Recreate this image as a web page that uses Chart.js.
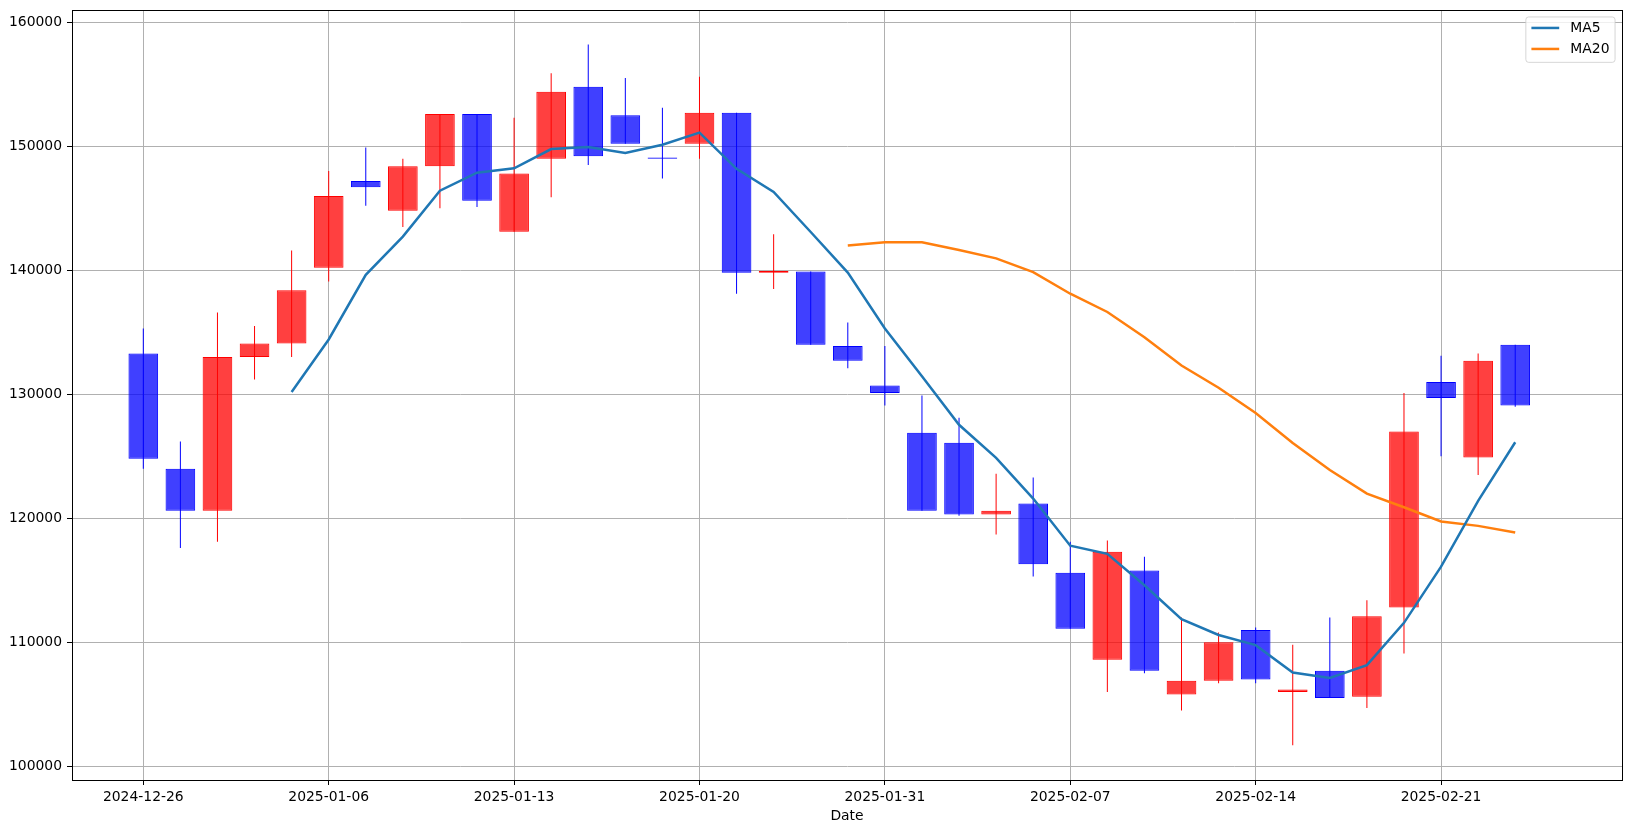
<!DOCTYPE html>
<html>
<head>
<meta charset="utf-8">
<script src="https://cdn.jsdelivr.net/npm/chart.js@4.4.1/dist/chart.umd.min.js"></script>
<style>
  html, body { margin: 0; padding: 0; background: #ffffff; }
  canvas { display: block; }
</style>
</head>
<body>
<canvas id="chart" width="1632" height="833"></canvas>
<script>
// ---- data ----
const dates = [
  "2024-12-26","2024-12-27","2024-12-30","2025-01-02","2025-01-03",
  "2025-01-06","2025-01-07","2025-01-08","2025-01-09","2025-01-10",
  "2025-01-13","2025-01-14","2025-01-15","2025-01-16","2025-01-17",
  "2025-01-20","2025-01-21","2025-01-22","2025-01-23","2025-01-24",
  "2025-01-31","2025-02-03","2025-02-04","2025-02-05","2025-02-06",
  "2025-02-07","2025-02-10","2025-02-11","2025-02-12","2025-02-13",
  "2025-02-14","2025-02-17","2025-02-18","2025-02-19","2025-02-20",
  "2025-02-21","2025-02-24","2025-02-25"
];
const opens = [
  133300,124000,120600,133000,134100,
  140200,147200,144800,148400,152600,
  143100,149000,154800,152500,149100,
  150200,152700,139800,139900,133900,
  130700,126900,126100,120300,121200,
  115600,108600,115800,105800,106900,
  111000,106000,107700,105600,112800,
  131000,124900,134000
];
const highs = [
  135300,126200,136600,135500,141600,
  148000,149900,149000,152600,152600,
  152300,155900,158200,155500,153100,
  155600,152700,142900,139900,135800,
  133900,129900,128100,123600,123300,
  118100,118200,116900,112000,110800,
  111200,109800,112000,113400,130100,
  133100,133300,134000
];
const lows = [
  124000,117600,118100,131200,133000,
  139100,145200,143500,145000,145100,
  143100,145900,148500,150200,147400,
  149000,138100,138500,134000,132100,
  129100,120600,120200,118700,115300,
  111100,106000,107500,104500,106700,
  106700,101700,105500,104700,109100,
  125000,123500,129000
];
const closes = [
  124800,120600,133000,134100,138400,
  146000,146700,148400,152600,145600,
  147800,154400,149200,150200,149000,
  152700,139800,139950,134000,132700,
  130100,120600,120300,120600,116300,
  111100,117300,107700,106900,110000,
  107000,106200,105500,112100,127000,
  129700,132700,129100
];
// moving averages (null = not drawn)
const ma5 = [
  null,null,null,null,130180,
  134420,139640,142720,146420,147870,
  148230,149780,149940,149460,150130,
  151100,148180,146320,143090,139820,
  135310,131460,127540,124870,121590,
  117790,117130,114600,111860,110590,
  109770,107560,107130,108160,111570,
  116100,121400,126130
];
const ma20 = [
  null,null,null,null,null,null,null,null,null,null,
  null,null,null,null,null,null,null,null,null,142000,
  142260,142260,141630,140960,139850,
  138110,136640,134600,132320,130530,
  128490,126080,123900,121990,120890,
  119740,119390,118850
];
const xTickIndices = [0, 5, 10, 15, 20, 25, 30, 35];
const yTicks = [100000, 110000, 120000, 130000, 140000, 150000, 160000];

// ---- styling ----
const FONT = "'DejaVu Sans', 'Liberation Sans', sans-serif";
const FS = 13.9;
const UP_FILL = 'rgba(255,0,0,0.75)', DOWN_FILL = 'rgba(0,0,255,0.75)';
const UP_LINE = '#ff0000', DOWN_LINE = '#0000ff';
const isUp = i => closes[i] >= opens[i];

Chart.defaults.font.family = FONT;
Chart.defaults.font.size = FS;
Chart.defaults.color = '#000';

const toPoints = arr => arr.map((v, i) => v === null ? null : ({ x: i, y: v })).filter(p => p !== null);

const noPad = s => { s.paddingTop = 0; s.paddingBottom = 0; s.paddingLeft = 0; s.paddingRight = 0; };

const framePlugin = {
  id: 'frame',
  afterDatasetsDraw(chart) {
    const { ctx, chartArea: a } = chart;
    ctx.save();
    ctx.strokeStyle = '#000';
    ctx.lineWidth = 1;
    ctx.strokeRect(Math.round(a.left) + 0.5, Math.round(a.top) + 0.5,
                   Math.round(a.right) - Math.round(a.left), Math.round(a.bottom) - Math.round(a.top));
    ctx.restore();
  }
};

const legendPlugin = {
  id: 'mplLegend',
  afterDraw(chart) {
    const { ctx, chartArea: a } = chart;
    const items = chart.data.datasets.filter(d => d.type === 'line');
    ctx.save();
    ctx.font = FS + 'px ' + FONT;
    const textW = Math.max(...items.map(d => ctx.measureText(d.label).width));
    const pad = 0.4 * FS, handle = 2.0 * FS, gap = 0.8 * FS;
    const w = pad + handle + gap + textW + pad;
    const rowH = 21, h = 45.4;
    const right = a.right - 0.5 * FS, top = a.top + 0.5 * FS;
    const left = right - w;
    const r = 2.8;
    ctx.beginPath();
    ctx.moveTo(left + r, top);
    ctx.lineTo(right - r, top);
    ctx.arcTo(right, top, right, top + r, r);
    ctx.lineTo(right, top + h - r);
    ctx.arcTo(right, top + h, right - r, top + h, r);
    ctx.lineTo(left + r, top + h);
    ctx.arcTo(left, top + h, left, top + h - r, r);
    ctx.lineTo(left, top + r);
    ctx.arcTo(left, top, left + r, top, r);
    ctx.closePath();
    ctx.fillStyle = 'rgba(255,255,255,0.8)';
    ctx.fill();
    ctx.strokeStyle = 'rgba(204,204,204,0.8)';
    ctx.lineWidth = 1;
    ctx.stroke();
    items.forEach((d, k) => {
      const cy = top + 11 + k * rowH;
      ctx.beginPath();
      ctx.strokeStyle = d.borderColor;
      ctx.lineWidth = d.borderWidth;
      ctx.moveTo(left + pad, cy);
      ctx.lineTo(left + pad + handle, cy);
      ctx.stroke();
      ctx.fillStyle = '#000';
      ctx.textBaseline = 'middle';
      ctx.textAlign = 'left';
      ctx.fillText(d.label, left + pad + handle + gap, cy + 0.5);
    });
    ctx.restore();
  }
};

new Chart(document.getElementById('chart'), {
  type: 'bar',
  data: {
    datasets: [
      {
        type: 'line', label: 'MA5', data: toPoints(ma5),
        borderColor: '#1f77b4', backgroundColor: '#1f77b4', borderWidth: 2.5,
        pointRadius: 0, tension: 0, fill: false, order: 0
      },
      {
        type: 'line', label: 'MA20', data: toPoints(ma20),
        borderColor: '#ff7f0e', backgroundColor: '#ff7f0e', borderWidth: 2.5,
        pointRadius: 0, tension: 0, fill: false, order: 0
      },
      {
        type: 'bar', label: 'body',
        data: dates.map((d, i) => ({ x: i, y: [opens[i], closes[i]] })),
        backgroundColor: c => isUp(c.dataIndex) ? UP_FILL : DOWN_FILL,
        borderColor: c => isUp(c.dataIndex) ? UP_LINE : DOWN_LINE,
        borderWidth: 1, borderSkipped: false, inflateAmount: 0,
        barPercentage: 0.8, categoryPercentage: 1.0, grouped: false, order: 1
      },
      {
        type: 'bar', label: 'wick',
        data: dates.map((d, i) => ({ x: i, y: [lows[i], highs[i]] })),
        backgroundColor: c => isUp(c.dataIndex) ? UP_LINE : DOWN_LINE,
        borderWidth: 0, inflateAmount: 0, barThickness: 1, grouped: false, order: 2
      }
    ]
  },
  options: {
    responsive: false,
    animation: false,
    events: [],
    layout: { padding: { left: 0, top: 10, right: 10, bottom: 0 } },
    plugins: { legend: { display: false }, tooltip: { enabled: false } },
    scales: {
      x: {
        type: 'linear', min: -1.923, max: 39.88, offset: false,
        grid: { color: '#b0b0b0', lineWidth: 1, offset: false, tickColor: '#000', tickLength: 5, tickWidth: 1 },
        border: { display: true, color: '#000', width: 1 },
        ticks: { color: '#000', padding: 4, autoSkip: false, maxRotation: 0, minRotation: 0,
                 font: { family: FONT, size: FS },
                 callback: v => (dates[v] !== undefined ? dates[v] : '') },
        afterBuildTicks: s => { s.ticks = xTickIndices.map(v => ({ value: v })); },
        afterFit: s => { s.height = 53; noPad(s); },
        title: { display: true, text: 'Date', color: '#000', font: { family: FONT, size: FS },
                 padding: { top: 0, bottom: 8 } }
      },
      y: {
        type: 'linear', min: 98895, max: 160992, beginAtZero: false,
        grid: { color: '#b0b0b0', lineWidth: 1, tickColor: '#000', tickLength: 5, tickWidth: 1 },
        border: { display: true, color: '#000', width: 1 },
        ticks: { color: '#000', padding: 5, font: { family: FONT, size: FS },
                 callback: v => String(v) },
        afterBuildTicks: s => { s.ticks = yTicks.map(v => ({ value: v })); },
        afterFit: s => { s.width = 72; noPad(s); }
      }
    }
  },
  plugins: [framePlugin, legendPlugin]
});
</script>
</body>
</html>
